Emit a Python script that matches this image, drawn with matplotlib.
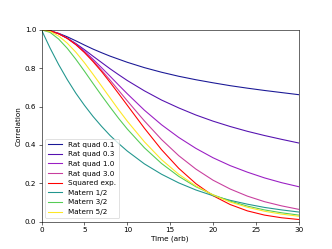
import matplotlib
matplotlib.use("Agg")
import matplotlib.pyplot as plt

# =========================
# DATA
# =========================

time = [0, 1, 2, 3, 4, 5, 6, 7, 8, 9, 10, 12, 14, 16, 18, 20, 22, 24, 26, 28, 30]

rat_quad_01 = [1.0, 0.995, 0.982, 0.964, 0.943, 0.921, 0.900, 0.881, 0.863, 0.847, 0.831,
               0.803, 0.779, 0.758, 0.740, 0.724, 0.709, 0.696, 0.684, 0.673, 0.662]
rat_quad_03 = [1.0, 0.995, 0.980, 0.957, 0.929, 0.897, 0.863, 0.830, 0.797, 0.766, 0.736,
               0.682, 0.634, 0.593, 0.556, 0.524, 0.496, 0.471, 0.449, 0.429, 0.410]
rat_quad_10 = [1.0, 0.995, 0.980, 0.957, 0.926, 0.889, 0.847, 0.803, 0.758, 0.712, 0.667,
               0.581, 0.505, 0.439, 0.382, 0.333, 0.292, 0.258, 0.228, 0.203, 0.182]
rat_quad_30 = [1.0, 0.995, 0.980, 0.956, 0.924, 0.885, 0.840, 0.790, 0.738, 0.684, 0.630,
               0.525, 0.428, 0.344, 0.274, 0.216, 0.170, 0.133, 0.104, 0.082, 0.064]
squared_exp = [1.0, 0.995, 0.980, 0.956, 0.923, 0.882, 0.835, 0.783, 0.726, 0.667, 0.607,
               0.487, 0.375, 0.278, 0.198, 0.135, 0.089, 0.056, 0.034, 0.020, 0.011]
matern_12 = [1.0, 0.905, 0.819, 0.741, 0.670, 0.607, 0.549, 0.497, 0.449, 0.407, 0.368,
             0.301, 0.247, 0.202, 0.165, 0.135, 0.111, 0.091, 0.074, 0.061, 0.050]
matern_32 = [1.0, 0.987, 0.952, 0.904, 0.847, 0.785, 0.721, 0.658, 0.597, 0.538, 0.483,
             0.385, 0.303, 0.236, 0.182, 0.140, 0.107, 0.081, 0.061, 0.046, 0.034]
matern_52 = [1.0, 0.992, 0.968, 0.931, 0.884, 0.829, 0.769, 0.707, 0.645, 0.583, 0.524,
             0.416, 0.323, 0.247, 0.186, 0.139, 0.102, 0.075, 0.054, 0.039, 0.028]

labels = ["Rat quad 0.1", "Rat quad 0.3", "Rat quad 1.0", "Rat quad 3.0",
          "Squared exp.", "Matern 1/2", "Matern 3/2", "Matern 5/2"]
colors = ["#1a1896", "#5512b0", "#9a1ec4", "#c83e9e",
          "#ff0000", "#21968e", "#55cc55", "#fde725"]

series = [rat_quad_01, rat_quad_03, rat_quad_10, rat_quad_30,
          squared_exp, matern_12, matern_32, matern_52]

# =========================
# PLOT
# =========================

fig = plt.figure(figsize=(6.4, 4.8), dpi=51.875)
ax = fig.add_subplot(111)

for y, lab, c in zip(series, labels, colors):
    ax.plot(time, y, color=c, label=lab)

ax.set_xlim(0, 30)
ax.set_ylim(0, 1)
ax.set_xlabel("Time (arb)")
ax.set_ylabel("Correlation")
ax.legend(loc="lower left")

fig.savefig("out.png", dpi=51.875)
